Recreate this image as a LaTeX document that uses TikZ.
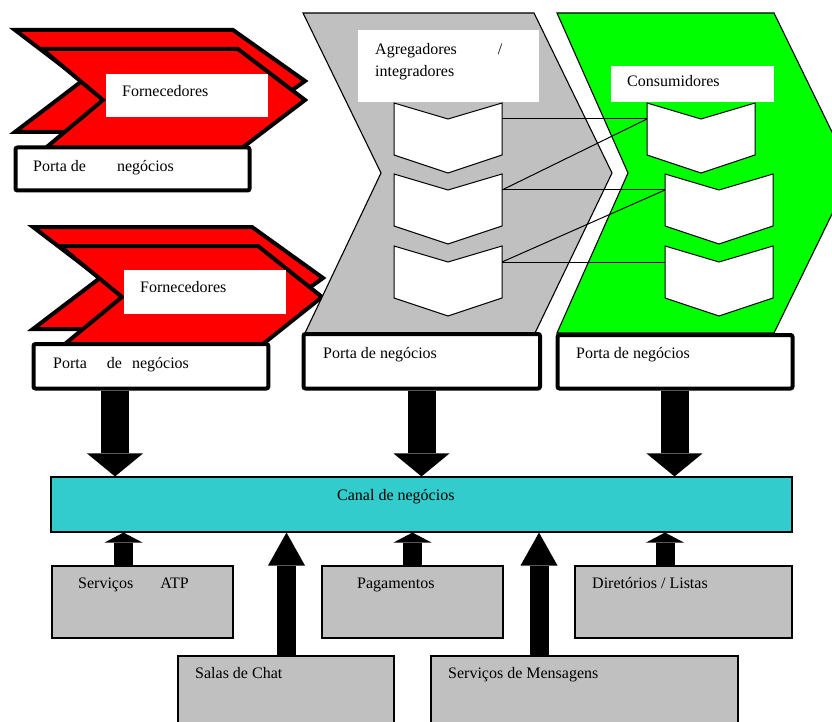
\documentclass[tikz,border=0pt]{standalone}
\usepackage{fontspec}
\setmainfont{Liberation Serif}
\usetikzlibrary{arrows.meta,fit,calc}
\definecolor{chred}{HTML}{FF0000}
\definecolor{chgray}{HTML}{C0C0C0}
\definecolor{chgreen}{HTML}{00FF00}
\definecolor{canalcyan}{HTML}{33CCCC}

\begin{document}
\begin{tikzpicture}[x=1pt,y=-1pt,
  every node/.style={font=\fontsize{16}{19}\selectfont},
  lbl/.style={inner sep=0pt, anchor=base west},
  redchev/.style={fill=chred, draw=black, line width=4pt, line join=miter},
  bigchev/.style={draw=black, line width=1.1pt, line join=miter},
  smallchev/.style={fill=white, draw=black, line width=1pt},
  whitelabel/.style={fill=white, inner sep=0pt},
  portabox/.style={draw=black, fill=white, line width=4pt, rounded corners=2pt, inner sep=0pt},
  graybox/.style={draw=black, fill=chgray, line width=1.1pt, inner sep=0pt},
  canalbox/.style={draw=black, fill=canalcyan, line width=1.1pt, inner sep=0pt},
  link/.style={draw=black, line width=1pt},
  bigdown/.style={line width=28pt, -{Triangle[length=23pt,width=56pt,line width=0pt]}},
  bigup/.style={line width=19pt, -{Triangle[length=33pt,width=37pt,line width=0pt]}},
  smallup/.style={line width=19pt, -{Triangle[length=10pt,width=38pt,line width=0pt]}},
  pics/dnchev/.style={code={
    \path[smallchev] (0,0) -- (54,16) -- (108,0) -- (108,52) -- (54,70) -- (0,52) -- cycle;
    \coordinate (-l) at (0,16);
    \coordinate (-r) at (108,16);
  }},
]
\useasboundingbox (0,0) rectangle (832,722);
\clip (0,0) rectangle (832,722);

% --- suppliers, upper group ---
\path[redchev] (15,30) -- (233,30) -- (305,81) -- (233,132) -- (15,132) -- (82,81) -- cycle;
\path[redchev] (42,49) -- (238,49) -- (305,100) -- (238,151) -- (42,151) -- (103,100) -- cycle;
\node[whitelabel, fit={(106,74) (268,117)}] (f1) {};
\node[lbl] (f1t) at (122,97) {Fornecedores};
\node[portabox, fit={(15.5,147.5) (249.5,190.5)}] (p1) {};
\node[lbl] (p1t) at (33,172) {Porta de\hspace{31pt}negócios};

% --- suppliers, lower group ---
\path[redchev] (33,227) -- (252,227) -- (323,278) -- (252,329) -- (33,329) -- (100,278) -- cycle;
\path[redchev] (60,246) -- (258,246) -- (322,297) -- (258,348) -- (60,348) -- (122,297) -- cycle;
\node[whitelabel, fit={(124,270) (286,314)}] (f2) {};
\node[lbl] (f2t) at (140,292) {Fornecedores};

% --- aggregators and consumers ---
\path[bigchev, fill=chgray] (303,13) -- (534,13) -- (612,173) -- (535,333) -- (305,333) -- (381,173) -- cycle;
\path[bigchev, fill=chgreen] (557,13) -- (774,13) -- (852,173) -- (774,333) -- (557,333) -- (628,173) -- cycle;

\node[whitelabel, fit={(358,30) (539,102)}] (agg) {};
\node[lbl] (aggt1) at (375,55) {Agregadores\hspace{41pt}/};
\node[lbl] (aggt2) at (375,77) {integradores};
\node[whitelabel, fit={(611,66) (774,102)}] (cons) {};
\node[lbl] (const) at (627,87) {Consumidores};

\pic (g1) at (394,103) {dnchev};
\pic (g2) at (394,174) {dnchev};
\pic (g3) at (394,246) {dnchev};
\pic (c1) at (647,103) {dnchev};
\pic (c2) at (665,174) {dnchev};
\pic (c3) at (665,246) {dnchev};

\draw[link] (g1-r) -- (c1-l);
\draw[link] (g2-r) -- (c1-l);
\draw[link] (g2-r) -- (c2-l);
\draw[link] (g3-r) -- (c2-l);
\draw[link] (g3-r) -- (c3-l);

% --- business gateways ---
\node[portabox, fit={(33.5,344) (268.3,388.5)}] (p2) {};
\node[lbl] (p2t) at (53,368) {Porta\hspace{20pt}de\hspace{10pt}negócios};
\node[portabox, fit={(303.5,334) (540,388.5)}] (p3) {};
\node[lbl] (p3t) at (323,358) {Porta de negócios};
\node[portabox, fit={(557.5,335) (792.5,388.5)}] (p4) {};
\node[lbl] (p4t) at (576,358) {Porta de negócios};

% --- business channel ---
\node[canalbox, fit={(51,477) (792,532)}] (canal) {};
\node[lbl] (canalt) at (337,500) {Canal de negócios};

% --- services ---
\node[graybox, fit={(52,566) (233,638)}] (atp) {};
\node[lbl] (atpt) at (78,588) {Serviços\hspace{27pt}ATP};
\node[graybox, fit={(322,566) (503,638)}] (pag) {};
\node[lbl] (pagt) at (357,588) {Pagamentos};
\node[graybox, fit={(575,566) (792,638)}] (dir) {};
\node[lbl] (dirt) at (592,588) {Diretórios / Listas};
\node[graybox, fit={(178,656) (394,730)}] (chat) {};
\node[lbl] (chatt) at (195,678) {Salas de Chat};
\node[graybox, fit={(431,656) (738,730)}] (msg) {};
\node[lbl] (msgt) at (448,678) {Serviços de Mensagens};

% --- arrow columns ---
\coordinate (dx1) at (115,0);
\coordinate (dx2) at (421.5,0);
\coordinate (dx3) at (674.5,0);
\coordinate (ux1) at (123.5,0);
\coordinate (ux2) at (412.5,0);
\coordinate (ux3) at (665,0);
\coordinate (ux4) at (286.5,0);
\coordinate (ux5) at (539,0);

\draw[bigdown] (p2.south -| dx1) -- (canal.north -| dx1);
\draw[bigdown] (p3.south -| dx2) -- (canal.north -| dx2);
\draw[bigdown] (p4.south -| dx3) -- (canal.north -| dx3);

\draw[smallup] (atp.north -| ux1) -- (canal.south -| ux1);
\draw[smallup] (pag.north -| ux2) -- (canal.south -| ux2);
\draw[smallup] (dir.north -| ux3) -- (canal.south -| ux3);
\draw[bigup] (chat.north -| ux4) -- (canal.south -| ux4);
\draw[bigup] (msg.north -| ux5) -- (canal.south -| ux5);
\end{tikzpicture}
\end{document}
